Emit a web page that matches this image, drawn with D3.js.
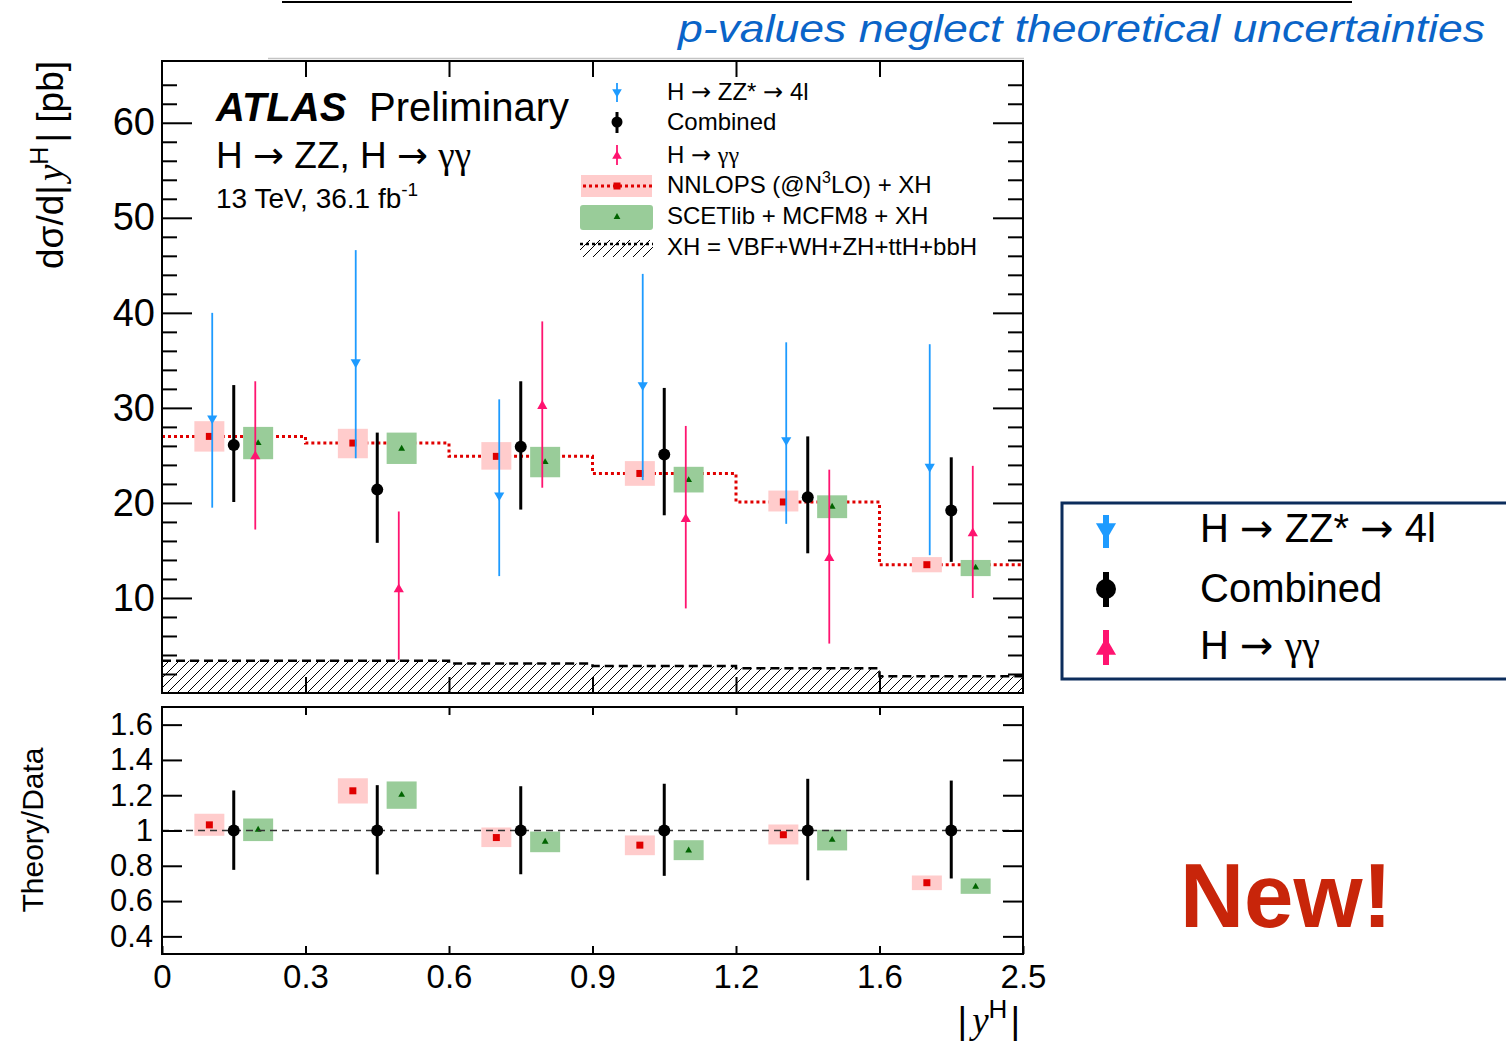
<!DOCTYPE html>
<html><head><meta charset="utf-8">
<script src="https://cdn.jsdelivr.net/npm/d3@7"></script>
<style>body{margin:0;background:#fff;} svg{display:block;} text{font-family:"Liberation Sans",Arial,sans-serif;}</style>
</head><body>
<svg id="c" width="1506" height="1041"></svg>
<script>
// ---------------- data ----------------
const binLabels = ["0","0.3","0.6","0.9","1.2","1.6","2.5"];
const topTicks = [10,20,30,40,50,60];
const ratioTicks = [0.4,0.6,0.8,1.0,1.2,1.4,1.6];
const ratioTickLabels = ["0.4","0.6","0.8","1","1.2","1.4","1.6"];

const zzVal  = [28.9, 34.8, 20.8, 32.4, 26.6, 23.8];
const zzUp   = [40.0, 46.6, 30.9, 44.1, 36.9, 36.7];
const zzDn   = [19.5, 24.7, 12.3, 22.4, 17.8, 14.5];

const combVal = [26.1, 21.4, 25.9, 25.1, 20.6, 19.2];
const combUp  = [32.4, 27.4, 32.8, 32.1, 27.0, 24.8];
const combDn  = [20.1, 15.8, 19.3, 18.7, 14.7, 13.8];

const ggVal = [24.9, 10.9, 30.2, 18.3, 14.2, 16.8];
const ggUp  = [32.8, 19.1, 39.1, 28.1, 23.5, 23.9];
const ggDn  = [17.2, 3.5, 21.6, 8.9, 5.2, 10.0];

const nnloVal = [27.0, 26.3, 24.9, 23.1, 20.1, 13.5];
const nnloHi  = [28.6, 27.8, 26.4, 24.4, 21.3, 14.3];
const nnloLo  = [25.4, 24.7, 23.5, 21.8, 19.1, 12.7];

const scetVal = [26.3, 25.7, 24.3, 22.4, 19.6, 13.2];
const scetHi  = [28.0, 27.4, 25.9, 23.8, 20.8, 14.0];
const scetLo  = [24.6, 24.1, 22.7, 21.1, 18.4, 12.3];

const xhVal = [3.4, 3.4, 3.1, 2.85, 2.6, 1.75];

const rNnlo   = [1.032, 1.225, 0.960, 0.917, 0.976, 0.704];
const rNnloHi = [1.095, 1.296, 1.017, 0.972, 1.034, 0.745];
const rNnloLo = [0.970, 1.153, 0.906, 0.860, 0.921, 0.662];
const rScet   = [1.004, 1.202, 0.936, 0.887, 0.947, 0.681];
const rScetHi = [1.068, 1.278, 0.994, 0.945, 1.004, 0.728];
const rScetLo = [0.940, 1.123, 0.877, 0.832, 0.887, 0.641];
const rCombUp = [1.227, 1.257, 1.251, 1.265, 1.293, 1.283];
const rCombDn = [0.777, 0.751, 0.752, 0.743, 0.718, 0.728];

// ---------------- styles ----------------
const C_ZZ = "#1e9bff", C_GG = "#ff1470", C_NNLO_BOX = "#ffcccc", C_NNLO = "#e00000",
      C_SCET_BOX = "#99cc99", C_SCET = "#006400";
const FONT = '"Liberation Sans",Arial,sans-serif';
const SERIF = '"Liberation Serif",serif';
const ARROWF = '"DejaVu Sans",sans-serif';

const svg = d3.select("#c");
const X0 = 162, X1 = 1023;
const x = d3.scaleLinear().domain([0, 6]).range([X0, X1]);
const yTop = d3.scaleLinear().domain([0, 66.5]).range([693, 61]);
const yRat = d3.scaleLinear().domain([0.3, 1.7]).range([954, 707]);
const bw = x(1) - x(0);
const idx = d3.range(6);
const cx = (i, off) => x(i + 0.5 + off);

// rich text helper: parts = [[text, kind]], kind: "" | "arrow" | "greek"
function rich(sel, parts) {
  parts.forEach(([s, k]) => {
    const ts = sel.append("tspan").text(s);
    if (k === "arrow") ts.attr("font-family", ARROWF).attr("font-weight", "normal").attr("font-style", "normal");
    if (k === "greek") ts.attr("font-family", SERIF);
  });
  return sel;
}

const defs = svg.append("defs");
const pat = defs.append("pattern").attr("id", "hatch").attr("patternUnits", "userSpaceOnUse")
  .attr("width", 10).attr("height", 10);
pat.append("path").attr("d", "M-1,1 l2,-2 M0,10 l10,-10 M9,11 l2,-2")
  .attr("stroke", "#000").attr("stroke-width", 1);

// page decorations
svg.append("line").attr("x1", 282).attr("x2", 1352).attr("y1", 2).attr("y2", 2).attr("stroke", "#000").attr("stroke-width", 2);
svg.append("line").attr("x1", 268).attr("x2", 1024).attr("y1", 58.5).attr("y2", 58.5).attr("stroke", "#c4c4c4").attr("stroke-width", 1.5);
svg.append("text").attr("x", 678).attr("y", 42).attr("font-family", "Lato").attr("font-style", "italic")
  .attr("font-size", 38).attr("fill", "#0a64c8").attr("textLength", 807).attr("lengthAdjust", "spacingAndGlyphs")
  .text("p-values neglect theoretical uncertainties");

// ---------------- upper panel ----------------
const up = svg.append("g");
up.selectAll(".xh").data(idx).join("rect")
  .attr("x", i => x(i)).attr("width", bw)
  .attr("y", i => yTop(xhVal[i])).attr("height", i => yTop(0) - yTop(xhVal[i]))
  .attr("fill", "url(#hatch)");
function stepPath(vals, ys) {
  let p = `M${x(0)},${ys(vals[0])}`;
  vals.forEach((v, i) => { p += `V${ys(v)}H${x(i + 1)}`; });
  return p;
}
up.append("path").attr("d", stepPath(xhVal, yTop)).attr("fill", "none")
  .attr("stroke", "#000").attr("stroke-width", 2.5).attr("stroke-dasharray", "9,5");
up.append("path").attr("d", stepPath(nnloVal, yTop)).attr("fill", "none")
  .attr("stroke", C_NNLO).attr("stroke-width", 3).attr("stroke-dasharray", "3,3");

const boxW = 30;
function theoryBoxes(g, ys, cVal, hi, lo, off, fill, kind) {
  g.selectAll(null).data(idx).join("rect")
    .attr("x", i => cx(i, off) - boxW / 2).attr("width", boxW)
    .attr("y", i => ys(hi[i])).attr("height", i => ys(lo[i]) - ys(hi[i]))
    .attr("fill", fill);
  if (kind === "sq") {
    g.selectAll(null).data(idx).join("rect")
      .attr("x", i => cx(i, off) - 3.5).attr("y", i => ys(cVal[i]) - 3.5)
      .attr("width", 7).attr("height", 7).attr("fill", C_NNLO);
  } else {
    g.selectAll(null).data(idx).join("path")
      .attr("d", d3.symbol(d3.symbolTriangle, 20))
      .attr("transform", i => `translate(${cx(i, off)},${ys(cVal[i])})`)
      .attr("fill", C_SCET);
  }
}
theoryBoxes(up, yTop, nnloVal, nnloHi, nnloLo, -0.17, C_NNLO_BOX, "sq");
theoryBoxes(up, yTop, scetVal, scetHi, scetLo, 0.17, C_SCET_BOX, "tri");

function errBars(g, ys, hiArr, loArr, off, color, w) {
  g.selectAll(null).data(idx).join("line")
    .attr("x1", i => cx(i, off)).attr("x2", i => cx(i, off))
    .attr("y1", i => ys(hiArr[i])).attr("y2", i => ys(loArr[i]))
    .attr("stroke", color).attr("stroke-width", w);
}
errBars(up, yTop, zzUp, zzDn, -0.15, C_ZZ, 1.8);
up.selectAll(null).data(idx).join("path")
  .attr("d", d3.symbol(d3.symbolTriangle, 45))
  .attr("transform", i => `translate(${cx(i, -0.15)},${yTop(zzVal[i])}) rotate(180)`)
  .attr("fill", C_ZZ);
errBars(up, yTop, ggUp, ggDn, 0.15, C_GG, 1.8);
up.selectAll(null).data(idx).join("path")
  .attr("d", d3.symbol(d3.symbolTriangle, 45))
  .attr("transform", i => `translate(${cx(i, 0.15)},${yTop(ggVal[i])})`)
  .attr("fill", C_GG);
errBars(up, yTop, combUp, combDn, 0, "#000", 3);
up.selectAll(null).data(idx).join("circle")
  .attr("cx", i => cx(i, 0)).attr("cy", i => yTop(combVal[i])).attr("r", 6).attr("fill", "#000");

function styleAxis(g, fs) {
  g.attr("font-family", FONT).attr("font-size", fs);
  g.select(".domain").remove();
  g.selectAll(".tick line").attr("stroke", "#000").attr("stroke-width", 2);
  g.selectAll(".tick text").attr("fill", "#000");
  return g;
}
const minorTop = d3.range(2, 66, 2).filter(v => v % 10 !== 0);
styleAxis(svg.append("g").attr("transform", `translate(${X0},0)`)
  .call(d3.axisLeft(yTop).tickValues(topTicks).tickSizeInner(-30).tickSizeOuter(0).tickPadding(7).tickFormat(d3.format("d"))), 38);
styleAxis(svg.append("g").attr("transform", `translate(${X0},0)`)
  .call(d3.axisLeft(yTop).tickValues(minorTop).tickSizeInner(-15).tickSizeOuter(0).tickFormat("")), 10);
styleAxis(svg.append("g").attr("transform", `translate(${X1},0)`)
  .call(d3.axisRight(yTop).tickValues(topTicks).tickSizeInner(-30).tickSizeOuter(0).tickFormat("")), 10);
styleAxis(svg.append("g").attr("transform", `translate(${X1},0)`)
  .call(d3.axisRight(yTop).tickValues(minorTop).tickSizeInner(-15).tickSizeOuter(0).tickFormat("")), 10);
styleAxis(svg.append("g").attr("transform", `translate(0,693)`)
  .call(d3.axisBottom(x).tickValues(d3.range(1, 6)).tickSizeInner(-16).tickSizeOuter(0).tickFormat("")), 10);
styleAxis(svg.append("g").attr("transform", `translate(0,61)`)
  .call(d3.axisTop(x).tickValues(d3.range(1, 6)).tickSizeInner(-16).tickSizeOuter(0).tickFormat("")), 10);
svg.append("rect").attr("x", X0).attr("y", 61).attr("width", X1 - X0).attr("height", 693 - 61)
  .attr("fill", "none").attr("stroke", "#000").attr("stroke-width", 2);

const yt = svg.append("text").attr("transform", "translate(63,61) rotate(-90)")
  .attr("text-anchor", "end").attr("font-size", 37);
yt.append("tspan").text("dσ/d|");
yt.append("tspan").attr("font-family", SERIF).attr("font-style", "italic").attr("dx", 4).text("y");
yt.append("tspan").attr("font-size", 25).attr("dy", -15).text("H");
yt.append("tspan").attr("dy", 15).attr("dx", 4).text("| [pb]");

const at = svg.append("text").attr("x", 216).attr("y", 121).attr("font-size", 40);
at.append("tspan").attr("font-weight", "bold").attr("font-style", "italic").text("ATLAS");
at.append("tspan").attr("x", 369).text("Preliminary");
rich(svg.append("text").attr("x", 216).attr("y", 168).attr("font-size", 37),
  [["H ", ""], ["→", "arrow"], [" ZZ, H ", ""], ["→", "arrow"], [" ", ""], ["γγ", "greek"]]);
const lu = svg.append("text").attr("x", 216).attr("y", 208).attr("font-size", 28);
lu.append("tspan").text("13 TeV, 36.1 fb");
lu.append("tspan").attr("font-size", 19).attr("dy", -12).text("-1");

// upper legend
const LX = 617, TX = 667;
const leg = svg.append("g");
leg.append("line").attr("x1", LX).attr("x2", LX).attr("y1", 83).attr("y2", 102).attr("stroke", C_ZZ).attr("stroke-width", 1.8);
leg.append("path").attr("d", d3.symbol(d3.symbolTriangle, 40)).attr("transform", `translate(${LX},92) rotate(180)`).attr("fill", C_ZZ);
leg.append("line").attr("x1", LX).attr("x2", LX).attr("y1", 112).attr("y2", 133).attr("stroke", "#000").attr("stroke-width", 3);
leg.append("circle").attr("cx", LX).attr("cy", 122).attr("r", 5.5).attr("fill", "#000");
leg.append("line").attr("x1", LX).attr("x2", LX).attr("y1", 145).attr("y2", 165).attr("stroke", C_GG).attr("stroke-width", 1.8);
leg.append("path").attr("d", d3.symbol(d3.symbolTriangle, 40)).attr("transform", `translate(${LX},156)`).attr("fill", C_GG);
leg.append("rect").attr("x", 581).attr("y", 175).attr("width", 71).attr("height", 22).attr("fill", C_NNLO_BOX);
leg.append("line").attr("x1", 583).attr("x2", 652).attr("y1", 186).attr("y2", 186).attr("stroke", C_NNLO).attr("stroke-width", 3).attr("stroke-dasharray", "3,3");
leg.append("rect").attr("x", LX - 3.5).attr("y", 182.5).attr("width", 7).attr("height", 7).attr("fill", C_NNLO);
leg.append("rect").attr("x", 580).attr("y", 205).attr("width", 73).attr("height", 25).attr("rx", 3).attr("fill", C_SCET_BOX);
leg.append("path").attr("d", d3.symbol(d3.symbolTriangle, 20)).attr("transform", `translate(${LX},217)`).attr("fill", C_SCET);
leg.append("rect").attr("x", 580).attr("y", 240).attr("width", 73).attr("height", 17).attr("fill", "url(#hatch)");
leg.append("line").attr("x1", 580).attr("x2", 653).attr("y1", 244).attr("y2", 244).attr("stroke", "#000").attr("stroke-width", 2.5).attr("stroke-dasharray", "3,3");

const lt = (y) => leg.append("text").attr("x", TX).attr("y", y).attr("font-size", 24);
rich(lt(100), [["H ", ""], ["→", "arrow"], [" ZZ* ", ""], ["→", "arrow"], [" 4l", ""]]);
lt(130).text("Combined");
rich(lt(163), [["H ", ""], ["→", "arrow"], [" ", ""], ["γγ", "greek"]]);
let t = lt(193); t.append("tspan").text("NNLOPS (@N"); t.append("tspan").attr("font-size", 16).attr("dy", -10).text("3");
t.append("tspan").attr("dy", 10).text("LO) + XH");
lt(224).text("SCETlib + MCFM8 + XH");
lt(255).text("XH = VBF+WH+ZH+ttH+bbH");

// ---------------- ratio panel ----------------
const lo = svg.append("g");
theoryBoxes(lo, yRat, rNnlo, rNnloHi, rNnloLo, -0.17, C_NNLO_BOX, "sq");
theoryBoxes(lo, yRat, rScet, rScetHi, rScetLo, 0.17, C_SCET_BOX, "tri");
lo.append("line").attr("x1", X0).attr("x2", X1).attr("y1", yRat(1)).attr("y2", yRat(1))
  .attr("stroke", "#333").attr("stroke-width", 1.5).attr("stroke-dasharray", "7,5");
errBars(lo, yRat, rCombUp, rCombDn, 0, "#000", 3);
lo.selectAll(null).data(idx).join("circle")
  .attr("cx", i => cx(i, 0)).attr("cy", yRat(1)).attr("r", 6).attr("fill", "#000");

styleAxis(svg.append("g").attr("transform", `translate(${X0},0)`)
  .call(d3.axisLeft(yRat).tickValues(ratioTicks).tickSizeInner(-20).tickSizeOuter(0).tickPadding(9)
    .tickFormat((d, i) => ratioTickLabels[i])), 31);
styleAxis(svg.append("g").attr("transform", `translate(${X1},0)`)
  .call(d3.axisRight(yRat).tickValues(ratioTicks).tickSizeInner(-20).tickSizeOuter(0).tickFormat("")), 10);
styleAxis(svg.append("g").attr("transform", `translate(0,954)`)
  .call(d3.axisBottom(x).tickValues(d3.range(0, 7)).tickSizeInner(-8).tickSizeOuter(0).tickPadding(11)
    .tickFormat((d, i) => binLabels[i])), 33);
styleAxis(svg.append("g").attr("transform", `translate(0,707)`)
  .call(d3.axisTop(x).tickValues(d3.range(1, 6)).tickSizeInner(-8).tickSizeOuter(0).tickFormat("")), 10);
svg.append("rect").attr("x", X0).attr("y", 707).attr("width", X1 - X0).attr("height", 954 - 707)
  .attr("fill", "none").attr("stroke", "#000").attr("stroke-width", 2);

svg.append("text").attr("transform", "translate(43,830) rotate(-90)").attr("text-anchor", "middle")
  .attr("font-size", 30).text("Theory/Data");
const xt = svg.append("text").attr("x", 1020).attr("y", 1033).attr("text-anchor", "end").attr("font-size", 37);
xt.append("tspan").text("|");
xt.append("tspan").attr("font-family", SERIF).attr("font-style", "italic").attr("dx", 5).text("y");
xt.append("tspan").attr("font-size", 26).attr("dy", -15).text("H");
xt.append("tspan").attr("dy", 15).attr("dx", 3).text("|");

// ---------------- right-hand legend ----------------
const rl = svg.append("g");
rl.append("rect").attr("x", 1062).attr("y", 503).attr("width", 470).attr("height", 176)
  .attr("fill", "#fff").attr("stroke", "#0c2d5c").attr("stroke-width", 3);
const RX = 1106;
rl.append("line").attr("x1", RX).attr("x2", RX).attr("y1", 515).attr("y2", 548).attr("stroke", C_ZZ).attr("stroke-width", 6);
rl.append("path").attr("d", d3.symbol(d3.symbolTriangle, 175)).attr("transform", `translate(${RX},529) rotate(180)`).attr("fill", C_ZZ);
rl.append("line").attr("x1", RX).attr("x2", RX).attr("y1", 572).attr("y2", 607).attr("stroke", "#000").attr("stroke-width", 6);
rl.append("circle").attr("cx", RX).attr("cy", 589).attr("r", 10).attr("fill", "#000");
rl.append("line").attr("x1", RX).attr("x2", RX).attr("y1", 630).attr("y2", 665).attr("stroke", C_GG).attr("stroke-width", 6);
rl.append("path").attr("d", d3.symbol(d3.symbolTriangle, 175)).attr("transform", `translate(${RX},649)`).attr("fill", C_GG);
const rt = (y) => rl.append("text").attr("x", 1200).attr("y", y).attr("font-size", 40);
rich(rt(542), [["H ", ""], ["→", "arrow"], [" ZZ* ", ""], ["→", "arrow"], [" 4l", ""]]);
rt(602).text("Combined");
rich(rt(659), [["H ", ""], ["→", "arrow"], [" ", ""], ["γγ", "greek"]]);

svg.append("text").attr("x", 1180).attr("y", 927).attr("font-family", "Lato").attr("font-weight", "bold")
  .attr("font-size", 90).attr("fill", "#c8250a").attr("textLength", 212).attr("lengthAdjust", "spacingAndGlyphs")
  .text("New!");
</script>
</body></html>
